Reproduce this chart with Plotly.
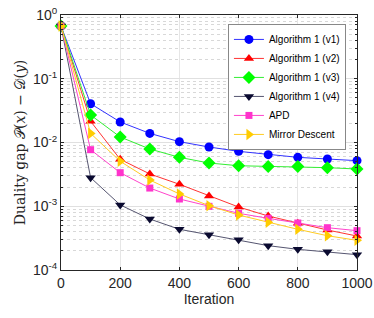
import plotly.graph_objects as go

iterations = [0, 100, 200, 300, 400, 500, 600, 700, 800, 900, 1000]

alg1_v1 = [0.672, 0.0406, 0.0210, 0.0139, 0.0103, 0.0085, 0.00727, 0.00644, 0.00585, 0.00551, 0.00519]
alg1_v2 = [0.672, 0.0215, 0.00545, 0.00321, 0.00221, 0.00145, 0.000973, 0.000703, 0.000540, 0.000424, 0.000341]
alg1_v3 = [0.672, 0.0270, 0.0122, 0.00791, 0.00585, 0.00477, 0.00432, 0.00422, 0.00422, 0.00403, 0.00384]
alg1_v4 = [0.672, 0.00281, 0.00105, 0.000631, 0.000435, 0.000358, 0.000299, 0.000241, 0.000211, 0.000194, 0.000174]
apd = [0.672, 0.00771, 0.00336, 0.00193, 0.00130, 0.000997, 0.000775, 0.000646, 0.000546, 0.000461, 0.000414]
mirror_descent = [0.672, 0.0139, 0.00507, 0.00258, 0.00156, 0.00102, 0.000729, 0.000560, 0.000435, 0.000345, 0.000292]

series_names = ["Algorithm 1 (v1)", "Algorithm 1 (v2)", "Algorithm 1 (v3)",
                "Algorithm 1 (v4)", "APD", "Mirror Descent"]
y_tickvals = [1e-4, 1e-3, 1e-2, 1e-1, 1]
y_ticktext = ["10<sup>-4</sup>", "10<sup>-3</sup>", "10<sup>-2</sup>", "10<sup>-1</sup>", "10<sup>0</sup>"]
x_tickvals = [0, 200, 400, 600, 800, 1000]

styles = [
    dict(line="#3333ff", marker="#0000ff", symbol="circle", size=9),
    dict(line="#ff3333", marker="#ff0000", symbol="triangle-up", size=9),
    dict(line="#33ee33", marker="#00ff00", symbol="diamond", size=10),
    dict(line="#555570", marker="#0a0a30", symbol="triangle-down", size=9),
    dict(line="#ff44cc", marker="#ff33cc", symbol="square", size=7),
    dict(line="#ffcc22", marker="#ffcc00", symbol="triangle-right", size=10),
]

data = [alg1_v1, alg1_v2, alg1_v3, alg1_v4, apd, mirror_descent]

fig = go.Figure()
for name, ys, st in zip(series_names, data, styles):
    fig.add_trace(go.Scatter(
        x=iterations, y=ys, name=name, mode="lines+markers",
        line=dict(color=st["line"], width=1),
        marker=dict(color=st["marker"], symbol=st["symbol"], size=st["size"],
                    line=dict(width=0)),
        cliponaxis=False,
    ))

axis_font = dict(family="Liberation Sans, Arial, sans-serif", size=14, color="#262626")

fig.update_layout(
    width=374, height=318,
    margin=dict(l=61, r=17, t=15, b=48),
    paper_bgcolor="white", plot_bgcolor="white",
    font=axis_font,
    showlegend=True,
    legend=dict(
        x=0.564, y=0.965, xanchor="left", yanchor="top",
        bgcolor="white", bordercolor="#888888", borderwidth=1,
        font=dict(family="Liberation Sans, Arial, sans-serif", size=10, color="#000000"),
        tracegroupgap=0, itemwidth=30,
    ),
    xaxis=dict(
        range=[0, 1000], tickmode="array", tickvals=x_tickvals,
        ticks="inside", ticklen=3, tickcolor="#262626",
        showline=True, linecolor="#262626", linewidth=1, mirror="ticks",
        showgrid=True, gridcolor="#e6e6e6", gridwidth=1, zeroline=False,
        automargin=False,
        title=dict(text="Iteration", font=dict(size=14, color="#262626"), standoff=2),
        tickfont=dict(size=14),
    ),
    yaxis=dict(
        type="log", range=[-4, 0], tickmode="array",
        tickvals=y_tickvals, ticktext=y_ticktext,
        ticks="inside", ticklen=3, tickcolor="#262626",
        showline=True, linecolor="#262626", linewidth=1, mirror="ticks",
        showgrid=True, gridcolor="#e0e0e0", gridwidth=1, zeroline=False,
        automargin=False,
        minor=dict(dtick="D1", showgrid=True, gridcolor="#d8d8d8", griddash="dot",
                   ticks="inside", ticklen=2, tickcolor="#262626"),
        title=dict(text="Duality gap 𝒫(<i>x</i>) − 𝒟(<i>y</i>)",
                   font=dict(family="DejaVu Serif, Liberation Serif, serif", size=14, color="#262626"),
                   standoff=4),
        tickfont=dict(size=14),
    ),
)

fig.write_html("out.html", config={"displayModeBar": False},
               post_script="document.body.style.margin='0px';document.body.style.overflow='hidden';")
